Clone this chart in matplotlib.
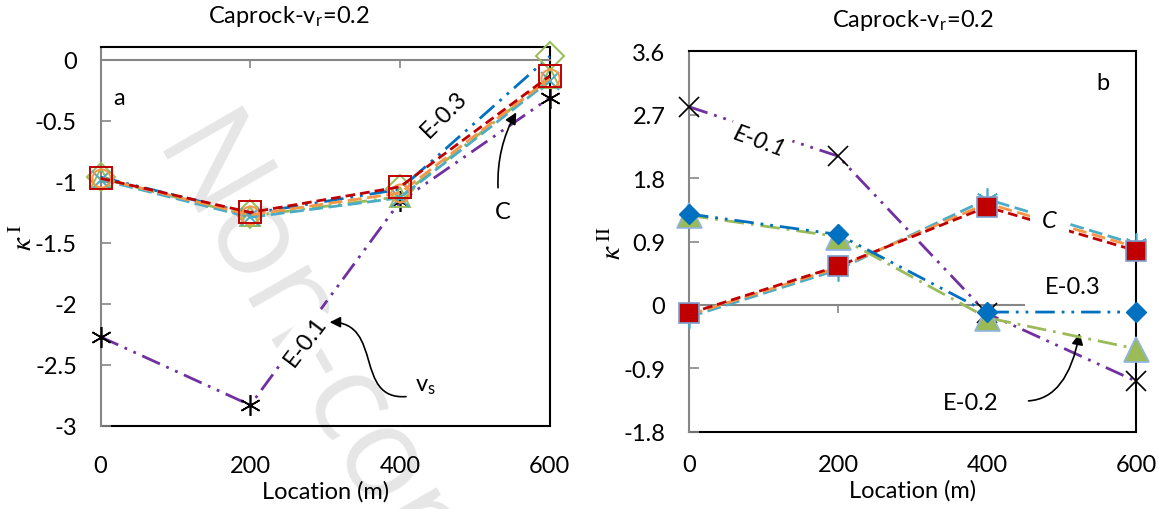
import matplotlib
matplotlib.use('Agg')
import matplotlib.pyplot as plt
from matplotlib.patches import FancyArrowPatch
from matplotlib.path import Path
import numpy as np

# Data
loc = [0, 200, 400, 600]

# panel a, kappa I
a_e01 = [-2.27, -2.83, -1.16, -0.31]
a_e02 = [-0.97, -1.28, -1.12, -0.15]
a_e03 = [-0.96, -1.26, -1.06, 0.03]
a_c_red = [-0.97, -1.25, -1.04, -0.13]
a_c_orange = [-0.97, -1.27, -1.09, -0.15]
a_c_cyan = [-0.98, -1.29, -1.13, -0.17]

# panel b, kappa II
b_e01 = [2.81, 2.11, -0.12, -1.08]
b_e02 = [1.27, 0.97, -0.18, -0.62]
b_e03 = [1.29, 1.0, -0.1, -0.1]
b_c_red = [-0.12, 0.55, 1.39, 0.77]
b_c_orange = [-0.14, 0.53, 1.44, 0.82]
b_c_cyan = [-0.17, 0.5, 1.5, 0.86]

a_yticks = [0, -0.5, -1, -1.5, -2, -2.5, -3]
b_yticks = [3.6, 2.7, 1.8, 0.9, 0, -0.9, -1.8]
x_ticks = [0, 200, 400, 600]

########################################################################

plt.rcParams['font.family'] = ['Lato', 'DejaVu Sans']
plt.rcParams['font.size'] = 17
plt.rcParams['mathtext.fontset'] = 'stix'

PURPLE = '#7030A0'
BLUE = '#0070C0'
GREEN = '#9BBB59'
RED = '#C00000'
ORANGE = '#F79646'
CYAN = '#4BACC6'
GRAY = '#868686'

ldd = (0, (7, 2.5, 1, 2.5, 1, 2.5))   # long dash dot dot
ld = (0, (7, 2.5, 1, 2.5))            # long dash dot
sd = (0, (3.5, 1.8))                  # short dash
md = (0, (5, 2))                      # dash
LW = 2.0

fig = plt.figure(figsize=(11.58, 5.10), dpi=100)

# watermark behind everything
fig.text(0.202, 0.80, 'Non-commercial', fontsize=92, color='#e6e6e6',
         rotation=-60, rotation_mode='anchor', ha='left', va='top',
         family='Open Sans', zorder=-5)

ax1 = fig.add_axes([0.0868, 0.163, 0.388, 0.743])
ax2 = fig.add_axes([0.595, 0.151, 0.386, 0.747])


def frame(ax, ymin, ymax, yticks, ylabel, title, bound_right, xpad, tx):
    ax.set_facecolor('none')
    ax.set_xlim(0, 600)
    ax.set_ylim(ymin, ymax)
    ax.set_yticks(yticks)
    ax.set_yticklabels([('%g' % t) for t in yticks])
    ax.tick_params(axis='y', direction='in', length=7, color=GRAY, width=1.2, pad=17)
    # category axis crossing at zero, labels low
    ax.spines['bottom'].set_position(('data', 0))
    ax.spines['bottom'].set_color(GRAY)
    ax.spines['bottom'].set_linewidth(1.5)
    ax.spines['bottom'].set_bounds(0, bound_right)
    ax.set_xticks([200, 400])
    ax.tick_params(axis='x', direction='out', length=6, color=GRAY, width=1.2,
                   labelbottom=False)
    ax.spines['left'].set_color(GRAY)
    ax.spines['left'].set_linewidth(1.5)
    for s in ['top', 'right']:
        ax.spines[s].set_color('black')
        ax.spines[s].set_linewidth(1.5)
    sec = ax.secondary_xaxis(0)
    sec.set_xticks(x_ticks)
    sec.tick_params(length=0, pad=xpad)
    sec.spines['bottom'].set_color('black')
    sec.spines['bottom'].set_linewidth(1.5)
    sec.set_xlabel('Location (m)', labelpad=3)
    ax.set_ylabel(ylabel, rotation=90, fontsize=21)
    ax.yaxis.set_label_coords(-0.142, 0.5)
    ax.set_title(title, x=tx, y=1.0, pad=18, fontsize=17)


title = 'Caprock-v$_\\mathregular{r}$=0.2'

# ---------------- panel a ----------------
frame(ax1, -3, 0.107, a_yticks, r'$\kappa^{\;\mathrm{I}}$', title, 600, 21, 0.42)
ax1.plot(loc, a_e01, color=PURPLE, lw=LW, ls=ldd, marker=(6, 2, 0), ms=15,
         mec='black', mew=1.2, zorder=3, clip_on=False)
ax1.plot(loc, a_e03, color=BLUE, lw=LW, ls=ldd, marker='D', ms=14,
         mfc='none', mec=GREEN, mew=1.4, zorder=3, clip_on=False)
ax1.plot(loc, a_e02, color=GREEN, lw=LW, ls=ld, marker='^', ms=15,
         mfc='none', mec=GREEN, mew=1.4, zorder=3, clip_on=False)
ax1.plot(loc, a_c_cyan, color=CYAN, lw=LW, ls=md, marker='x', ms=13,
         mec=CYAN, mew=1.4, zorder=3, clip_on=False)
ax1.plot(loc, a_c_orange, color=ORANGE, lw=LW, ls=md, marker='o', ms=13,
         mfc='none', mec=ORANGE, mew=1.4, zorder=3, clip_on=False)
ax1.plot(loc, a_c_red, color=RED, lw=LW, ls=sd, marker='s', ms=16,
         mfc='none', mec=RED, mew=1.4, zorder=4, clip_on=False)

ax1.text(25, -0.31, 'a', fontsize=17, ha='center', va='center')
ax1.text(459, -0.44, 'E-0.3', fontsize=17, rotation=45, ha='center', va='center')
ax1.text(537, -1.24, 'C', fontsize=17, ha='center', va='center')
ax1.annotate('', xy=(557, -0.41), xytext=(531, -1.07),
             arrowprops=dict(arrowstyle='-|>', color='black', lw=1.2,
                             connectionstyle='arc3,rad=-0.15'))
ax1.text(273, -2.3, 'E-0.1', fontsize=17, rotation=53, ha='center', va='center',
         bbox=dict(fc='white', ec='none', pad=5), zorder=5)
ax1.text(434, -2.67, 'v$_\\mathregular{s}$', fontsize=17, ha='center', va='center')
vs_path = Path([(408, -2.76), (338, -2.79), (378, -2.15), (306, -2.15)],
               [Path.MOVETO, Path.CURVE4, Path.CURVE4, Path.CURVE4])
ax1.add_patch(FancyArrowPatch(path=vs_path, arrowstyle='-|>', mutation_scale=16,
                              shrinkA=0, shrinkB=0, color='black', lw=1.2,
                              transform=ax1.transData, zorder=6))

# ---------------- panel b ----------------
frame(ax2, -1.8, 3.6, b_yticks, r'$\kappa^{\;\mathrm{II}}$', title, 450, 16, 0.5)
ax2.yaxis.set_label_coords(-0.14, 0.5)
ax2.plot(loc, b_e01, color=PURPLE, lw=LW, ls=ldd, marker='x', ms=14,
         mec='black', mew=1.2, zorder=3, clip_on=False)
ax2.plot(loc, b_c_cyan, color=CYAN, lw=LW, ls=md, marker=(6, 2, 0), ms=16,
         mec=CYAN, mew=1.2, zorder=3, clip_on=False)
ax2.plot(loc, b_c_orange, color=ORANGE, lw=LW, ls=md, zorder=3, clip_on=False)
ax2.plot(loc, b_c_red, color=RED, lw=LW, ls=sd, marker='s', ms=15,
         mfc=RED, mec='#7F9FCF', mew=1.2, zorder=4, clip_on=False)
ax2.plot(loc, b_e02, color=GREEN, lw=LW, ls=ld, marker='^', ms=18,
         mfc=GREEN, mec='#8EB4E3', mew=1.2, zorder=4, clip_on=False)
ax2.plot(loc, b_e03, color=BLUE, lw=LW, ls=ldd, marker='D', ms=10,
         mfc=BLUE, mec=BLUE, zorder=5, clip_on=False)

ax2.text(555, 3.15, 'b', fontsize=17, ha='center', va='center')
ax2.text(94, 2.32, 'E-0.1', fontsize=17, style='italic', rotation=-20,
         ha='center', va='center', bbox=dict(fc='white', ec='none', pad=3), zorder=6)
ax2.text(484, 1.2, 'C', fontsize=17, style='italic', ha='center', va='center',
         bbox=dict(fc='white', ec='none', pad=9), zorder=6)
ax2.text(515, 0.26, 'E-0.3', fontsize=17, ha='center', va='center', zorder=6)
ax2.text(378, -1.38, 'E-0.2', fontsize=17, ha='center', va='center')
ax2.annotate('', xy=(525, -0.36), xytext=(452, -1.36),
             arrowprops=dict(arrowstyle='-|>', color='black', lw=1.2,
                             connectionstyle='angle3,angleA=0,angleB=80'))

fig.savefig('out.png', dpi=100)
